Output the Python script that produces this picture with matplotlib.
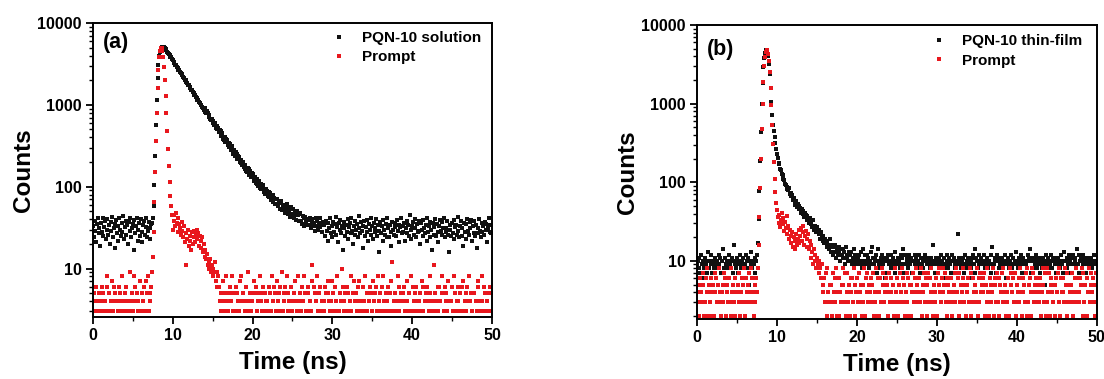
import numpy as np
import matplotlib
matplotlib.use("Agg")
import matplotlib.pyplot as plt
from matplotlib import ticker
from matplotlib.lines import Line2D

plt.rcParams['font.family'] = ['Liberation Sans', 'DejaVu Sans']
plt.rcParams['font.weight'] = 'bold'

CHANNEL_NS = 0.1  # TCSPC channel width (ns)


def digits(s):
    """Low-count channels stored one base-36 character per channel (spaces ignored)."""
    return [int(c, 36) for c in s.replace(" ", "")]


# ---------------- (a) PQN-10 solution ----------------
sol_pre = [33, 24, 38, 29, 21, 35, 42, 27, 31, 19,
           36, 28, 41, 25, 32, 38, 23, 30, 40, 26,
           34, 20, 37, 29, 43, 24, 31, 35, 18, 39,
           27, 33, 22, 41, 30, 25, 36, 28, 44, 23,
           32, 38, 26, 34, 20, 37, 29, 42, 24, 31,
           35, 17, 39, 27, 33, 41, 22, 30, 36, 25,
           40, 28, 21, 34, 38, 26, 32, 42, 24, 29,
           37, 31, 23, 35]
sol_rise = [36, 41, 58, 105, 240, 560, 1150, 2100, 3100, 3900,
            4450, 4800, 4950, 5050, 5000, 5030]
sol_decay = [5010, 4780, 4680, 4450, 4360, 4150, 4080, 3870, 3800, 3610,
             3510, 3340, 3280, 3110, 3060, 2900, 2850, 2700, 2660, 2520,
             2470, 2350, 2310, 2190, 2150, 2040, 2010, 1900, 1870, 1770,
             1740, 1650, 1625, 1540, 1515, 1435, 1412, 1338, 1318, 1245,
             1228, 1162, 1145, 1083, 1068, 1008, 996, 940, 928, 876,
             921, 822, 795, 832, 805, 718, 753, 672, 650, 680,
             601, 643, 562, 602, 526, 509, 545, 527, 461, 494,
             481, 413, 451, 387, 375, 409, 352, 384, 371, 319,
             306, 340, 331, 278, 310, 261, 253, 282, 238, 265,
             254, 219, 240, 232, 200, 194, 212, 182, 200, 172,
             166, 185, 157, 152, 170, 165, 140, 156, 133, 148,
             144, 140, 117, 133, 110, 107, 123, 101, 118, 97,
             109, 94, 99, 104, 86, 95, 82, 93, 88, 76,
             85, 74, 83, 69, 78, 80, 65, 73, 62, 71,
             61, 70, 58, 66, 53, 64, 67, 52, 60, 55,
             59, 48, 52, 61, 46, 55, 50, 43, 57, 47,
             44, 53, 41, 49, 47, 39, 51, 45, 38, 48,
             46, 38, 35, 44, 41, 33, 43, 37, 40, 34,
             39, 34, 42, 31, 37, 40, 33, 36, 29, 41,
             33, 38, 30, 36, 41, 32, 35, 28, 37, 34]
sol_tail = [34, 25, 38, 29, 22, 36, 31, 41, 27, 33,
            24, 37, 28, 35, 43, 26, 32, 21, 36, 30,
            39, 27, 33, 17, 31, 37, 25, 34, 28, 40,
            23, 32, 36, 27, 42, 29, 20, 33, 26, 38,
            30, 35, 24, 44, 31, 27, 37, 29, 18, 33,
            38, 25, 32, 28, 39, 22, 35, 30, 41, 26,
            33, 23, 36, 28, 31, 40, 25, 34, 16, 29,
            37, 27, 33, 22, 39, 30, 26, 35, 24, 42,
            31, 24, 34, 28, 19, 37, 30, 26, 36, 32,
            25, 39, 29, 34, 21, 32, 41, 27, 33, 28,
            36, 22, 31, 38, 27, 34, 25, 45, 30, 23,
            33, 37, 26, 31, 40, 24, 35, 28, 38, 29,
            20, 36, 30, 25, 39, 31, 27, 34, 22, 41,
            28, 33, 24, 37, 30, 17, 36, 26, 32, 40,
            25, 35, 28, 21, 33, 39, 29, 26, 37, 31,
            42, 24, 31, 28, 38, 26, 16, 34, 30, 25,
            36, 27, 39, 23, 32, 34, 26, 43, 29, 24,
            33, 38, 25, 31, 19, 36, 28, 35, 23, 40,
            29, 26, 37, 31, 39, 22, 33, 27, 38, 25,
            34, 18, 31, 27, 40, 29, 24, 36, 28, 33,
            26, 37, 30, 35, 21, 31, 41, 28, 34, 27]

prompt_a_pre = digits("3542634253 4635243862 5342736452 4326548324 5362439425 "
                      "3846253427 3524632758 3546")
prompt_a_peak = [9, 14, 28, 65, 150, 360, 800, 1600, 2700, 3800,
                 4600, 5000, 4900, 4500, 3800, 2900, 2000, 1300, 800, 480,
                 290, 180, 115, 78, 58, 45]
prompt_a_bump = [30, 38, 45, 33, 48, 36, 28, 41, 35, 31,
                 26, 37, 29, 24, 33, 21, 27, 11, 23, 30,
                 19, 25, 22, 17, 28, 20, 24, 29, 21, 26,
                 30, 23, 27, 19, 25, 22, 18, 24, 16, 20,
                 14, 17, 13, 15, 11, 12, 10, 13, 9, 11,
                 10, 8, 9, 12, 7, 9, 6, 8]
prompt_a_tail = digits("6453274538 4352648352 3625437284 5243639425 3452726354 "
                       "2845363524 4362538246 5327453629 3546283542 6234572438 "
                       "4523648253 3652437b26 5248356324 2436527543 4735264382 "
                       "3524a63452 6352438257 4253647324 3648253546 5237452638 "
                       "2453628435 4362537c24 3524836452 5463247352 3826453642 "
                       "4352736245 624358243b 3542636428 5236453724 2463825346 "
                       "4352637245 3648245352 5243763428 4365234526 35")

# ---------------- (b) PQN-10 thin film ----------------
film_pre = digits("9ab87c9a68 b9a7d8a9c7 a89b6a8c9b 7a5e8b9a68 c9a8b7g9a8 "
                  "b7a9c8a9b6 9ca8b5a9d8 a9b7a")
film_peak = [12, 17, 34, 78, 185, 440, 980, 1850, 2950, 3850,
             4450, 4780, 4850, 4650, 4050, 3200,
             2350, 1580, 1050, 720, 540, 455, 372, 318, 268, 232,
             205, 178, 170, 148, 142, 126, 124, 109, 108, 96,
             92, 88, 83, 79, 84, 71, 74, 66, 68, 60,
             63, 57, 52, 58, 49, 53, 45, 50, 47, 41,
             46, 40, 43, 36, 41, 38, 33, 37, 34, 30,
             35, 29, 31, 27, 33, 25, 28, 26, 23, 27,
             24, 22, 25, 19, 23, 20, 18, 21, 17, 19,
             18, 15, 17, 16, 14, 19, 13, 16, 15, 12,
             15, 13, 16, 11, 14, 12, 13, 15, 10, 14,
             12, 14, 11, 13, 9, 15, 11, 12, 10, 13,
             12, 10, 13, 9, 11, 14, 10, 12, 9, 11]
film_tail = digits("bac9d8ea9c a9cb8ad9fb 9bac7e9a8b ca9b6ab7c9 a8c9ba7d9a "
                   "b9a8cb9e7c 9ba8c9ab7a ac9b8a9c7b 9a8bc7a9ba 8b9ag9a7b9 "
                   "a9b8ca69b8 9ac8b9a7ca b89a7m9ba8 a9b7c8a9b6 9a8bc9e7ba "
                   "8c9ab7a9c8 a9b8a9c7f9 9ab7ca8b9a b8a9c6a9b8 a9c8b9a7d9 "
                   "8ba9c7ab9a 9a8cbea7b8 a9bc8a9b7a 8b9a5ca9b8 9ac8ba9b7a "
                   "b9a8c9a7da a8b9ca7b9c 9ab8e9c7ab 8c9ab7a9b8 a9b8ac9a7")

prompt_b_pre = digits("4352643572 3648253462 5274635384 2453762543 6382453624 "
                      "4537246358 2643574836 425364")
prompt_b_peak = [8, 16, 36, 85, 200, 470, 1000, 1900, 3000, 3900,
                 4500, 4800, 4750, 4300, 3500, 2500, 1600, 950, 540, 310,
                 180, 110, 75, 55]
prompt_b_bump = [44, 36, 30, 38, 27, 33, 41, 29, 35, 24,
                 31, 26, 37, 22, 28, 19, 25, 21, 17, 23,
                 15, 20, 18, 14, 22, 16, 19, 25, 17, 21,
                 26, 18, 23, 28, 16, 21, 24, 15, 19, 22,
                 14, 18, 11, 16, 13, 9, 14, 10, 12, 8,
                 11, 9, 7, 10, 8, 6, 9]
prompt_b_tail = digits("5463728435 3527463824 6243585372 4735264638 2546373452 "
                       "5382647354 3657243826 4263857346 5427364352 3846253748 "
                       "6352473625 2547364853 4638254736 5273648325 3462758436 "
                       "4857362543 6324573846 2735468352 5463827364 3548263745 "
                       "4672538426 5348265373 2654738452 4362857463 3725463842 "
                       "6453728356 4287354634 5362485372 3847265435 2564738264 "
                       "4638527354 5372463846 3465827352 6248375463 527")

x_ticks = [0, 10, 20, 30, 40, 50]
y_ticks = [10, 100, 1000, 10000]

RED = '#e8171d'
BLACK = '#111111'
MS = 3.1

panels = [
    dict(rect=[0.0842, 0.1636, 0.3614, 0.7757], ylim=(2.56, 10000), tag="(a)", tag_y=0.935,
         sample=sol_pre + sol_rise + sol_decay + sol_tail,
         prompt=prompt_a_pre + prompt_a_peak + prompt_a_bump + prompt_a_tail,
         label="PQN-10 solution", leg_anchor=(0.5975, 0.973)),
    dict(rect=[0.6313, 0.1583, 0.3623, 0.7757], ylim=(1.82, 10000), tag="(b)", tag_y=0.918,
         sample=film_pre + film_peak + film_tail,
         prompt=prompt_b_pre + prompt_b_peak + prompt_b_bump + prompt_b_tail,
         label="PQN-10 thin-film", leg_anchor=(0.586, 0.968)),
]

fig = plt.figure(figsize=(11.04, 3.79), dpi=100)

for p in panels:
    ax = fig.add_axes(p['rect'])
    ys = np.asarray(p['sample'], dtype=float)
    yp = np.asarray(p['prompt'], dtype=float)
    ts = np.arange(len(ys)) * CHANNEL_NS
    tp = np.arange(len(yp)) * CHANNEL_NS
    ys[ys <= 0] = np.nan
    yp[yp <= 0] = np.nan
    ax.plot(ts, ys, ls='none', marker='s', ms=MS, mew=0, color=BLACK)
    ax.plot(tp, yp, ls='none', marker='s', ms=MS, mew=0, color=RED)

    ax.set_yscale('log')
    ax.set_xlim(0, 50)
    ax.set_ylim(*p['ylim'])
    ax.set_xticks(x_ticks)
    ax.xaxis.set_minor_locator(ticker.MultipleLocator(5))
    ax.set_yticks(y_ticks)
    ax.yaxis.set_major_formatter(ticker.FuncFormatter(lambda v, pos: f"{v:g}"))
    ax.yaxis.set_minor_formatter(ticker.NullFormatter())
    ax.tick_params(which='major', direction='out', length=5, width=1.3,
                   labelsize=11.5, pad=3, top=False, right=False)
    ax.tick_params(which='minor', direction='out', length=3, width=1.0,
                   top=False, right=False)
    for sp in ax.spines.values():
        sp.set_linewidth(1.4)

    ax.set_xlabel("Time (ns)", fontsize=17.5, fontweight='bold', labelpad=6)
    ax.set_ylabel("Counts", fontsize=17.5, fontweight='bold', labelpad=1.5)

    ax.text(0.025, p['tag_y'], p['tag'], transform=ax.transAxes, fontsize=15.5,
            fontweight='bold', ha='left', va='center')

    handles = [Line2D([], [], ls='none', marker='s', ms=2.4, mew=0, color=BLACK),
               Line2D([], [], ls='none', marker='s', ms=2.4, mew=0, color=RED)]
    ax.legend(handles, [p['label'], "Prompt"], loc='upper left',
              bbox_to_anchor=p['leg_anchor'], frameon=False, borderpad=0,
              borderaxespad=0, handlelength=1.0, handletextpad=1.0,
              labelspacing=0.35, prop={'size': 11, 'weight': 'bold'})

fig.savefig("out.png", dpi=100)
